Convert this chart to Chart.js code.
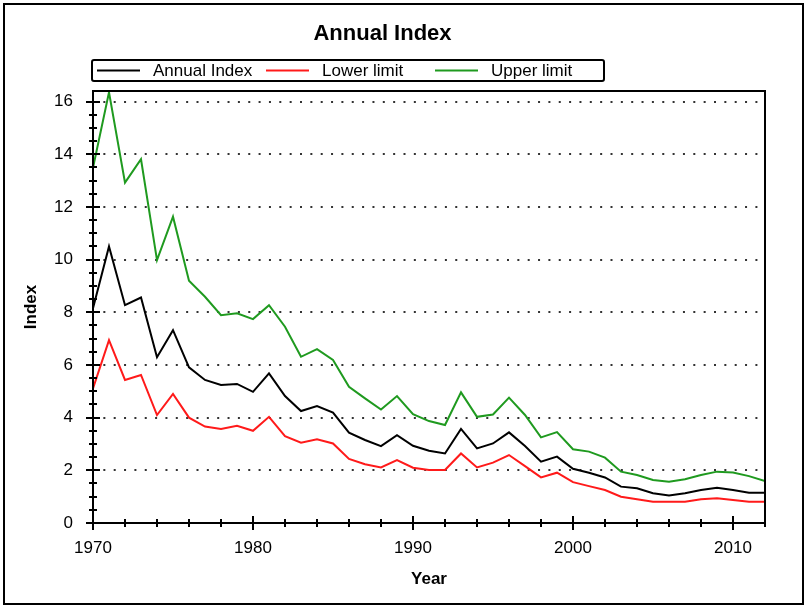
<!DOCTYPE html>
<html>
<head>
<meta charset="utf-8">
<script src="https://cdn.jsdelivr.net/npm/chart.js@4/dist/chart.umd.min.js"></script>
<style>
  html, body { margin: 0; padding: 0; background: #fff; }
  #wrap { position: relative; width: 811px; height: 614px; }
</style>
</head>
<body>
<div id="wrap"><canvas id="annualIndexChart"></canvas></div>
<script>
const years = [
  1970, 1971, 1972, 1973, 1974, 1975, 1976, 1977, 1978, 1979,
  1980, 1981, 1982, 1983, 1984, 1985, 1986, 1987, 1988, 1989,
  1990, 1991, 1992, 1993, 1994, 1995, 1996, 1997, 1998, 1999,
  2000, 2001, 2002, 2003, 2004, 2005, 2006, 2007, 2008, 2009,
  2010, 2011, 2012
];
const annualIndex = [
  8.15, 10.5, 8.27, 8.56, 6.29, 7.32, 5.91, 5.43, 5.24, 5.28,
  4.98, 5.68, 4.82, 4.25, 4.44, 4.19, 3.43, 3.15, 2.92, 3.33,
  2.93, 2.74, 2.64, 3.57, 2.83, 3.02, 3.44, 2.92, 2.33, 2.52,
  2.06, 1.91, 1.73, 1.38, 1.32, 1.13, 1.04, 1.13, 1.25, 1.34,
  1.25, 1.15, 1.15
];
const lowerLimit = [
  5.11, 6.94, 5.43, 5.62, 4.1, 4.9, 4.0, 3.66, 3.57, 3.69,
  3.5, 4.03, 3.3, 3.05, 3.18, 3.02, 2.43, 2.23, 2.11, 2.39,
  2.1, 2.01, 2.01, 2.64, 2.11, 2.29, 2.58, 2.16, 1.73, 1.91,
  1.55, 1.4, 1.25, 1.0, 0.9, 0.81, 0.81, 0.81, 0.9, 0.94,
  0.87, 0.81, 0.81
];
const upperLimit = [
  13.48, 16.35, 12.92, 13.81, 9.98, 11.63, 9.2, 8.59, 7.89, 7.96,
  7.74, 8.27, 7.45, 6.31, 6.6, 6.19, 5.17, 4.73, 4.31, 4.82,
  4.13, 3.87, 3.72, 4.96, 4.03, 4.12, 4.76, 4.1, 3.25, 3.45,
  2.8, 2.71, 2.48, 1.95, 1.82, 1.63, 1.57, 1.66, 1.82, 1.95,
  1.92, 1.78, 1.59
];
const xTickLabels = [1970, 1980, 1990, 2000, 2010];
const yTickLabels = [0, 2, 4, 6, 8, 10, 12, 14, 16];

Chart.defaults.font.family = "'Liberation Sans', Arial, sans-serif";
Chart.defaults.color = '#000';

const toPoints = (vals) => vals.map((v, i) => ({ x: years[i], y: v }));

// frame round the whole picture and round the plot, plus the cross ticks
const framePlugin = {
  id: 'frame',
  beforeDraw(chart) {
    const ctx = chart.ctx;
    ctx.save();
    ctx.fillStyle = '#fff';
    ctx.fillRect(0, 0, chart.width, chart.height);
    ctx.strokeStyle = '#000';
    ctx.lineWidth = 2;
    ctx.strokeRect(4, 4, 799, 600);
    ctx.restore();
  },
  afterDatasetsDraw(chart) {
    const ctx = chart.ctx;
    const a = chart.chartArea;
    const xs = chart.scales.x, ys = chart.scales.y;
    ctx.save();
    ctx.strokeStyle = '#000';
    ctx.lineWidth = 2;
    ctx.strokeRect(a.left, a.top, a.right - a.left, a.bottom - a.top);

    ctx.beginPath();
    for (let v = ys.min; v <= 16; v += 0.5) {
      const y = Math.round(ys.getPixelForValue(v));
      const major = yTickLabels.includes(v);
      ctx.moveTo(a.left - (major ? 7 : 4), y);
      ctx.lineTo(a.left + (major ? 7 : 4), y);
    }
    for (let yr = xs.min; yr <= xs.max; yr += 2) {
      const x = Math.round(xs.getPixelForValue(yr));
      const major = xTickLabels.includes(yr);
      ctx.moveTo(x, a.bottom - (major ? 7 : 4));
      ctx.lineTo(x, a.bottom + (major ? 7 : 4));
    }
    ctx.stroke();
    ctx.restore();
  },
  afterDraw(chart) {
    // boxed legend in three fixed columns
    const ctx = chart.ctx;
    const left = 92, top = 60, w = 512, h = 21;
    ctx.save();
    ctx.strokeStyle = '#000';
    ctx.lineWidth = 2;
    ctx.beginPath();
    ctx.roundRect(left, top, w, h, 2);
    ctx.stroke();
    ctx.font = "17px 'Liberation Sans', Arial, sans-serif";
    ctx.textBaseline = 'middle';
    ctx.fillStyle = '#000';
    const cy = top + h / 2;
    chart.data.datasets.forEach((ds, i) => {
      const x0 = left + 5 + i * 169;
      ctx.strokeStyle = ds.borderColor;
      ctx.beginPath();
      ctx.moveTo(x0, cy);
      ctx.lineTo(x0 + 43, cy);
      ctx.stroke();
      ctx.fillText(ds.label, x0 + 56, cy + 1);
    });
    ctx.restore();
  }
};

const ctx = document.getElementById('annualIndexChart').getContext('2d');
new Chart(ctx, {
  type: 'line',
  data: {
    datasets: [
      { label: 'Annual Index', data: toPoints(annualIndex), borderColor: '#000000' },
      { label: 'Lower limit', data: toPoints(lowerLimit), borderColor: '#ff1a1a' },
      { label: 'Upper limit', data: toPoints(upperLimit), borderColor: '#1f9a1f' }
    ]
  },
  options: {
    responsive: true,
    maintainAspectRatio: false,
    animation: false,
    events: [],
    elements: {
      line: { borderWidth: 2, tension: 0 },
      point: { radius: 0 }
    },
    layout: { padding: { left: 0, right: 46, top: 0, bottom: 0 } },
    plugins: {
      legend: { display: false },
      tooltip: { enabled: false },
      title: {
        display: true,
        text: 'Annual Index',
        font: { size: 22, weight: 'bold' },
        color: '#000',
        padding: { top: 21, bottom: 43.6 }
      }
    },
    scales: {
      x: {
        type: 'linear',
        min: 1970,
        max: 2012,
        afterBuildTicks: (scale) => { scale.ticks = xTickLabels.map(v => ({ value: v })); },
        afterFit: (scale) => { scale.height = 91; },
        grid: { display: false, drawTicks: false },
        border: { display: false },
        ticks: {
          padding: 15,
          font: { size: 17 },
          color: '#000',
          maxRotation: 0,
          callback: (v) => String(v)
        },
        title: {
          display: true,
          text: 'Year',
          font: { size: 17, weight: 'bold' },
          color: '#000',
          padding: { top: 0, bottom: 24 }
        }
      },
      y: {
        min: 0,
        max: 16.4,
        afterBuildTicks: (scale) => { scale.ticks = yTickLabels.map(v => ({ value: v })); },
        afterFit: (scale) => { scale.width = 93; },
        grid: {
          drawTicks: false,
          color: (c) => (c.tick && c.tick.value === 0 ? 'rgba(0,0,0,0)' : '#333'),
          lineWidth: 2
        },
        border: { display: false, dash: [2, 8.35] },
        ticks: {
          padding: 20,
          font: { size: 17 },
          color: '#000'
        },
        title: {
          display: true,
          text: 'Index',
          font: { size: 17, weight: 'bold' },
          color: '#000',
          padding: { top: 21, bottom: 0 }
        }
      }
    }
  },
  plugins: [framePlugin]
});
</script>
</body>
</html>
